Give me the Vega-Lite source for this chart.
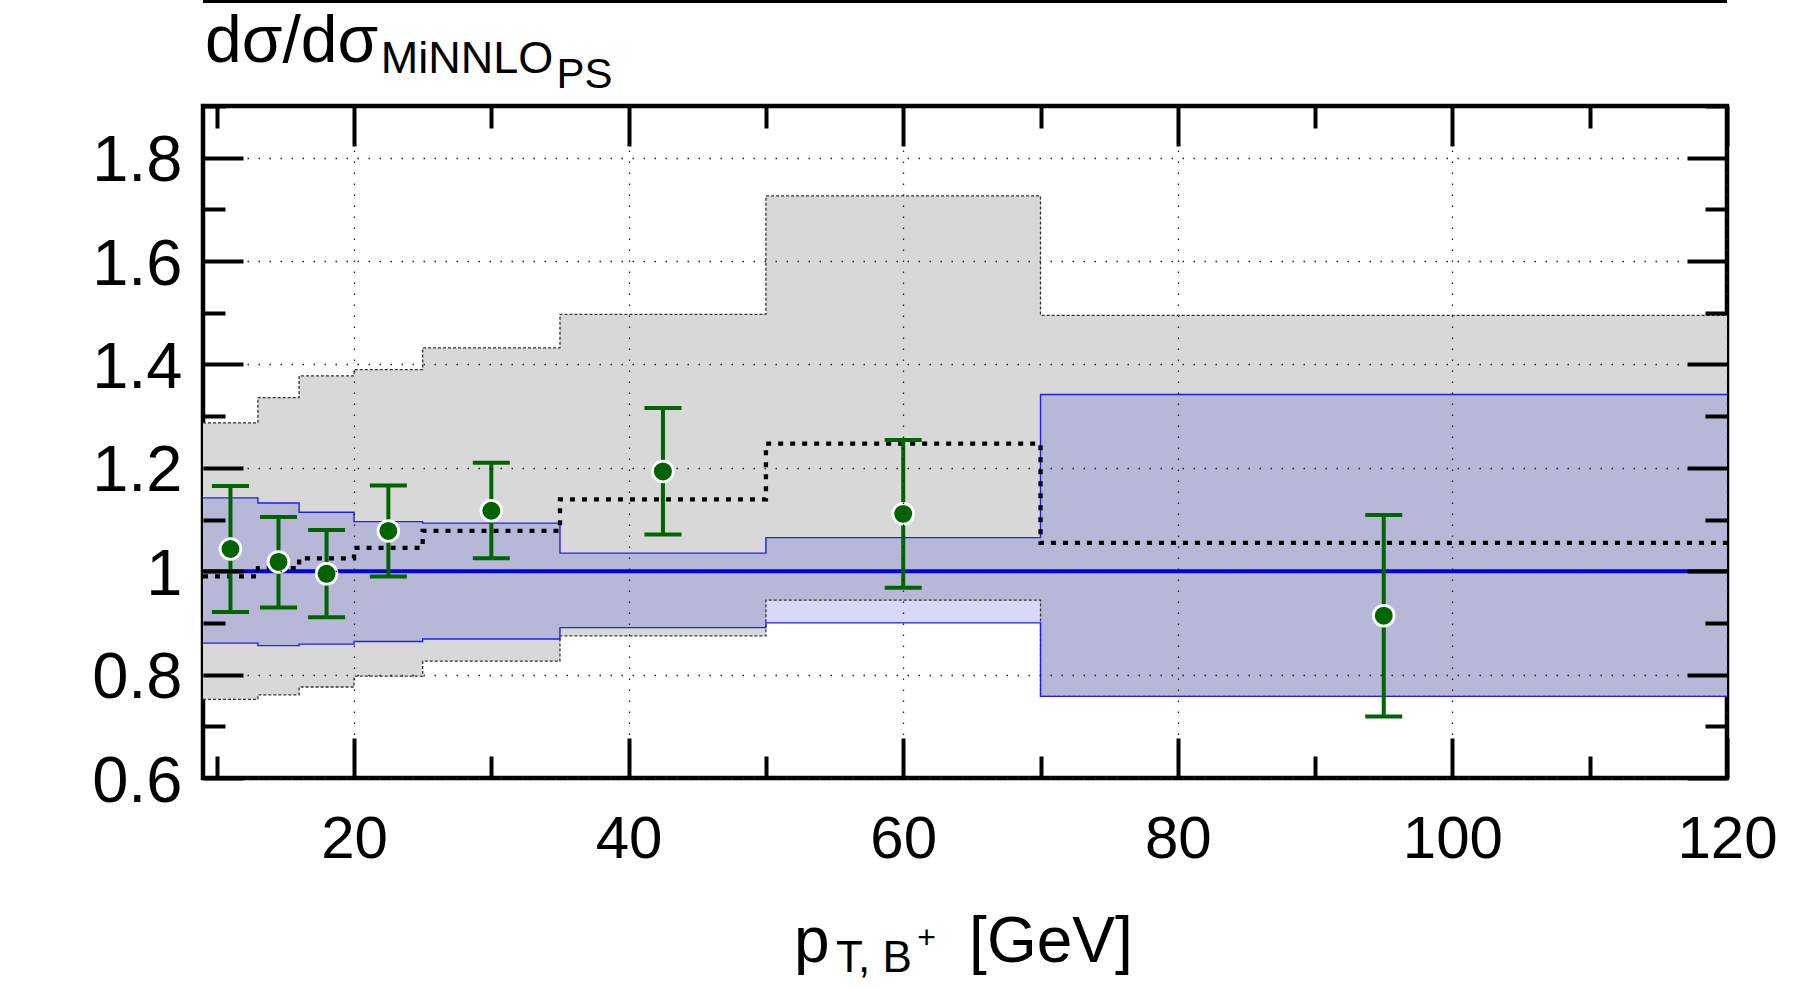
{
  "$schema": "https://vega.github.io/schema/vega-lite/v6.json",
  "width": 1524,
  "height": 672,
  "autosize": "none",
  "padding": {"left": 203, "top": 106, "right": 81, "bottom": 210},
  "background": "white",
  "config": {
    "view": {"stroke": "black", "strokeWidth": 4.5},
    "font": "Liberation Sans"
  },
  "datasets": {
    "steps": [
      {"pt": 9, "gray_lo": 0.752, "gray_hi": 1.287, "blue_lo": 0.861, "blue_hi": 1.142, "nlops": 0.990, "minnlo": 1},
      {"pt": 13, "gray_lo": 0.761, "gray_hi": 1.336, "blue_lo": 0.856, "blue_hi": 1.132, "nlops": 1.006, "minnlo": 1},
      {"pt": 16, "gray_lo": 0.776, "gray_hi": 1.378, "blue_lo": 0.859, "blue_hi": 1.114, "nlops": 1.025, "minnlo": 1},
      {"pt": 20, "gray_lo": 0.797, "gray_hi": 1.390, "blue_lo": 0.864, "blue_hi": 1.096, "nlops": 1.045, "minnlo": 1},
      {"pt": 25, "gray_lo": 0.826, "gray_hi": 1.432, "blue_lo": 0.869, "blue_hi": 1.093, "nlops": 1.078, "minnlo": 1},
      {"pt": 35, "gray_lo": 0.875, "gray_hi": 1.497, "blue_lo": 0.891, "blue_hi": 1.035, "nlops": 1.139, "minnlo": 1},
      {"pt": 50, "gray_lo": 0.944, "gray_hi": 1.726, "blue_lo": 0.900, "blue_hi": 1.065, "nlops": 1.247, "minnlo": 1},
      {"pt": 70, "gray_lo": 0.758, "gray_hi": 1.495, "blue_lo": 0.758, "blue_hi": 1.342, "nlops": 1.055, "minnlo": 1},
      {"pt": 120, "gray_lo": 0.758, "gray_hi": 1.495, "blue_lo": 0.758, "blue_hi": 1.342, "nlops": 1.055, "minnlo": 1}
    ],
    "points": [
      {"pt": 11, "ratio": 1.043, "lo": 0.921, "hi": 1.165},
      {"pt": 14.5, "ratio": 1.018, "lo": 0.930, "hi": 1.105},
      {"pt": 18, "ratio": 0.995, "lo": 0.911, "hi": 1.080},
      {"pt": 22.5, "ratio": 1.078, "lo": 0.990, "hi": 1.166},
      {"pt": 30, "ratio": 1.117, "lo": 1.025, "hi": 1.210},
      {"pt": 42.5, "ratio": 1.193, "lo": 1.071, "hi": 1.316},
      {"pt": 60, "ratio": 1.111, "lo": 0.968, "hi": 1.254},
      {"pt": 95, "ratio": 0.914, "lo": 0.719, "hi": 1.109}
    ]
  },
  "resolve": {"axis": {"x": "independent", "y": "independent"}},
  "layer": [
    {
      "data": {"name": "steps"},
      "mark": {"type": "area", "interpolate": "step-after", "orient": "vertical", "fill": "#d8d8d8"},
      "encoding": {
        "x": {"field": "pt", "type": "quantitative",
          "scale": {"domain": [9, 120], "nice": false, "zero": false},
          "axis": {"orient": "bottom", "values": [10, 20, 30, 40, 50, 60, 70, 80, 90, 100, 110, 120],
            "title": null, "domain": false, "zindex": 1,
            "grid": true, "gridDash": [1.5, 9.5], "gridColor": "#222222", "gridWidth": 1.3,
            "gridOpacity": {"condition": {"test": "datum.value % 20 == 0", "value": 1}, "value": 0},
            "ticks": true, "tickColor": "black", "tickWidth": 4,
            "tickSize": {"condition": {"test": "datum.value % 20 == 0", "value": -40}, "value": -22},
            "labelExpr": "datum.value % 20 == 0 ? format(datum.value, 'd') : ''",
            "labelFont": "Liberation Sans", "labelFontSize": 60, "labelColor": "black",
            "labelBaseline": "alphabetic", "labelPadding": 119, "labelOverlap": false, "labelFlush": false, "labelBound": false}},
        "y": {"field": "gray_lo", "type": "quantitative",
          "scale": {"domain": [0.6, 1.9], "nice": false, "zero": false},
          "axis": {"orient": "left", "values": [0.6, 0.7, 0.8, 0.9, 1, 1.1, 1.2, 1.3, 1.4, 1.5, 1.6, 1.7, 1.8, 1.9],
            "title": null, "domain": false, "zindex": 1,
            "grid": true, "gridDash": [1.5, 9.5], "gridColor": "#222222", "gridWidth": 1.3,
            "gridOpacity": {"condition": {"test": "round(datum.value * 10) % 2 == 0", "value": 1}, "value": 0},
            "ticks": true, "tickColor": "black", "tickWidth": 4,
            "tickSize": {"condition": {"test": "round(datum.value * 10) % 2 == 0", "value": -40}, "value": -22},
            "labelExpr": "round(datum.value * 10) % 2 == 0 ? format(datum.value, '~g') : ''",
            "labelFont": "Liberation Sans", "labelFontSize": 65, "labelColor": "black",
            "labelAlign": "right", "labelBaseline": "alphabetic", "labelOffset": 23, "labelPadding": 61,
            "labelOverlap": false, "labelFlush": false, "labelBound": false}},
        "y2": {"field": "gray_hi"}
      }
    },
    {
      "data": {"name": "steps"},
      "mark": {"type": "area", "interpolate": "step-after", "orient": "vertical", "fill": "#0000d0", "fillOpacity": 0.153},
      "encoding": {
        "x": {"field": "pt", "type": "quantitative",
          "axis": {"orient": "top", "values": [10, 20, 30, 40, 50, 60, 70, 80, 90, 100, 110, 120],
            "title": null, "domain": false, "grid": false, "labels": false, "zindex": 1,
            "ticks": true, "tickColor": "black", "tickWidth": 4,
            "tickSize": {"condition": {"test": "datum.value % 20 == 0", "value": -40}, "value": -22}}},
        "y": {"field": "blue_lo", "type": "quantitative",
          "axis": {"orient": "right", "values": [0.6, 0.7, 0.8, 0.9, 1, 1.1, 1.2, 1.3, 1.4, 1.5, 1.6, 1.7, 1.8, 1.9],
            "title": null, "domain": false, "grid": false, "labels": false, "zindex": 1,
            "ticks": true, "tickColor": "black", "tickWidth": 4,
            "tickSize": {"condition": {"test": "round(datum.value * 10) % 2 == 0", "value": -40}, "value": -22}}},
        "y2": {"field": "blue_hi"}
      }
    },
    {
      "data": {"name": "steps"},
      "mark": {"type": "line", "interpolate": "step-after", "color": "#333333", "strokeWidth": 1.3, "strokeDash": [3, 2]},
      "encoding": {
        "x": {"field": "pt", "type": "quantitative", "axis": null},
        "y": {"field": "gray_lo", "type": "quantitative", "axis": null}
      }
    },
    {
      "data": {"name": "steps"},
      "mark": {"type": "line", "interpolate": "step-after", "color": "#333333", "strokeWidth": 1.3, "strokeDash": [3, 2]},
      "encoding": {
        "x": {"field": "pt", "type": "quantitative", "axis": null},
        "y": {"field": "gray_hi", "type": "quantitative", "axis": null}
      }
    },
    {
      "data": {"name": "steps"},
      "mark": {"type": "line", "interpolate": "step-after", "color": "#2020f0", "strokeWidth": 1.4},
      "encoding": {
        "x": {"field": "pt", "type": "quantitative", "axis": null},
        "y": {"field": "blue_lo", "type": "quantitative", "axis": null}
      }
    },
    {
      "data": {"name": "steps"},
      "mark": {"type": "line", "interpolate": "step-after", "color": "#2020f0", "strokeWidth": 1.4},
      "encoding": {
        "x": {"field": "pt", "type": "quantitative", "axis": null},
        "y": {"field": "blue_hi", "type": "quantitative", "axis": null}
      }
    },
    {
      "data": {"name": "steps"},
      "mark": {"type": "line", "interpolate": "step-after", "color": "#0000dd", "strokeWidth": 4},
      "encoding": {
        "x": {"field": "pt", "type": "quantitative", "axis": null},
        "y": {"field": "minnlo", "type": "quantitative", "axis": null}
      }
    },
    {
      "data": {"name": "steps"},
      "mark": {"type": "line", "interpolate": "step-after", "color": "black", "strokeWidth": 4.3, "strokeDash": [5, 7]},
      "encoding": {
        "x": {"field": "pt", "type": "quantitative", "axis": null},
        "y": {"field": "nlops", "type": "quantitative", "axis": null}
      }
    },
    {
      "data": {"name": "points"},
      "mark": {"type": "rule", "color": "#006400", "strokeWidth": 4},
      "encoding": {
        "x": {"field": "pt", "type": "quantitative", "axis": null},
        "y": {"field": "lo", "type": "quantitative", "axis": null},
        "y2": {"field": "hi"}
      }
    },
    {
      "data": {"name": "points"},
      "mark": {"type": "tick", "orient": "horizontal", "color": "#006400", "size": 37, "thickness": 4, "opacity": 1},
      "encoding": {
        "x": {"field": "pt", "type": "quantitative", "axis": null},
        "y": {"field": "lo", "type": "quantitative", "axis": null}
      }
    },
    {
      "data": {"name": "points"},
      "mark": {"type": "tick", "orient": "horizontal", "color": "#006400", "size": 37, "thickness": 4, "opacity": 1},
      "encoding": {
        "x": {"field": "pt", "type": "quantitative", "axis": null},
        "y": {"field": "hi", "type": "quantitative", "axis": null}
      }
    },
    {
      "data": {"name": "points"},
      "mark": {"type": "circle", "fill": "#006400", "stroke": "white", "strokeWidth": 2.8, "size": 430, "opacity": 1},
      "encoding": {
        "x": {"field": "pt", "type": "quantitative", "axis": null},
        "y": {"field": "ratio", "type": "quantitative", "axis": null}
      }
    },
    {
      "data": {"values": [{"t": "upper panel frame"}]},
      "mark": {"type": "rule", "color": "black", "strokeWidth": 3},
      "encoding": {
        "y": {"datum": 2.102, "type": "quantitative", "axis": null}
      }
    },
    {
      "data": {"values": [{"t": "dσ/dσ"}]},
      "mark": {"type": "text", "align": "left", "baseline": "alphabetic", "fontSize": 66, "font": "Liberation Sans", "color": "black"},
      "encoding": {
        "x": {"datum": 9.146, "type": "quantitative", "axis": null},
        "y": {"datum": 1.9857, "type": "quantitative", "axis": null},
        "text": {"field": "t"}
      }
    },
    {
      "data": {"values": [{"t": "MiNNLO"}]},
      "mark": {"type": "text", "align": "left", "baseline": "alphabetic", "fontSize": 45, "font": "Liberation Sans", "color": "black"},
      "encoding": {
        "x": {"datum": 21.95, "type": "quantitative", "axis": null},
        "y": {"datum": 1.9633, "type": "quantitative", "axis": null},
        "text": {"field": "t"}
      }
    },
    {
      "data": {"values": [{"t": "PS"}]},
      "mark": {"type": "text", "align": "left", "baseline": "alphabetic", "fontSize": 42, "font": "Liberation Sans", "color": "black"},
      "encoding": {
        "x": {"datum": 34.75, "type": "quantitative", "axis": null},
        "y": {"datum": 1.9342, "type": "quantitative", "axis": null},
        "text": {"field": "t"}
      }
    },
    {
      "data": {"values": [{"t": "p"}]},
      "mark": {"type": "text", "align": "left", "baseline": "alphabetic", "fontSize": 64, "font": "Liberation Sans", "color": "black"},
      "encoding": {
        "x": {"datum": 52.05, "type": "quantitative", "axis": null},
        "y": {"datum": 0.2446, "type": "quantitative", "axis": null},
        "text": {"field": "t"}
      }
    },
    {
      "data": {"values": [{"t": "T, B"}]},
      "mark": {"type": "text", "align": "left", "baseline": "alphabetic", "fontSize": 44, "font": "Liberation Sans", "color": "black"},
      "encoding": {
        "x": {"datum": 55.1, "type": "quantitative", "axis": null},
        "y": {"datum": 0.2252, "type": "quantitative", "axis": null},
        "text": {"field": "t"}
      }
    },
    {
      "data": {"values": [{"t": "+"}]},
      "mark": {"type": "text", "align": "center", "baseline": "alphabetic", "fontSize": 32, "font": "Liberation Sans", "color": "black"},
      "encoding": {
        "x": {"datum": 61.7, "type": "quantitative", "axis": null},
        "y": {"datum": 0.271, "type": "quantitative", "axis": null},
        "text": {"field": "t"}
      }
    },
    {
      "data": {"values": [{"t": "[GeV]"}]},
      "mark": {"type": "text", "align": "left", "baseline": "alphabetic", "fontSize": 64, "font": "Liberation Sans", "color": "black"},
      "encoding": {
        "x": {"datum": 64.8, "type": "quantitative", "axis": null},
        "y": {"datum": 0.2446, "type": "quantitative", "axis": null},
        "text": {"field": "t"}
      }
    }
  ]
}
